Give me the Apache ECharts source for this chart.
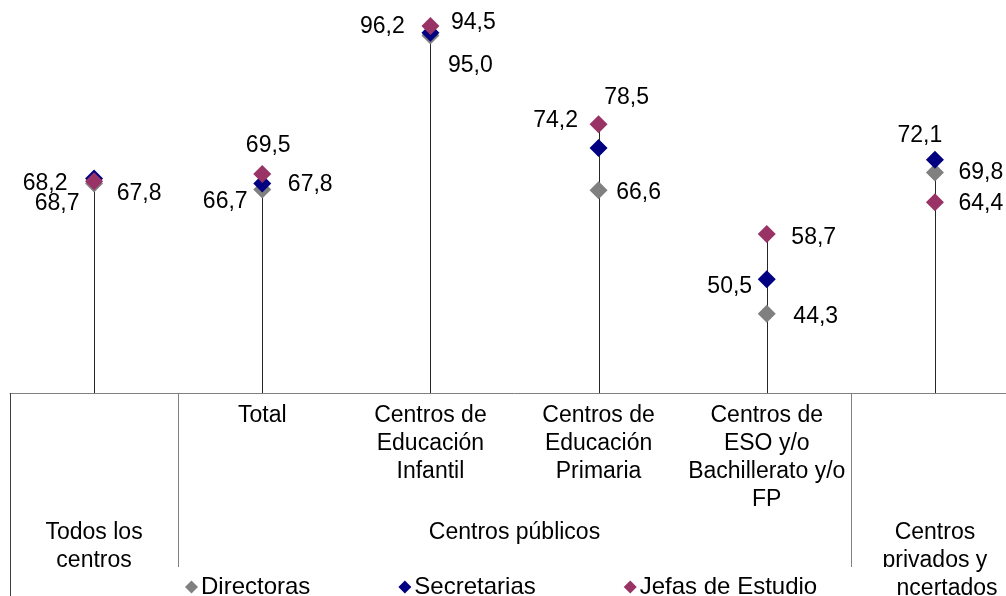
<!DOCTYPE html>
<html>
<head>
<meta charset="utf-8">
<title>Mujeres en la dirección de centros</title>
<script src="https://cdn.jsdelivr.net/npm/echarts@6/dist/echarts.min.js"></script>
<style>
  html, body { margin: 0; padding: 0; background: #fff; overflow: hidden; width: 1006px; height: 596px; }
  /* the plot runs slightly past the right edge of the page */
  #chart { width: 1024px; height: 596px; }
</style>
</head>
<body>
<div id="chart"></div>
<script>
// Category labels: first level (school type) and second level (ownership group)
const categories = ['', 'Total', 'Centros de\nEducación\nInfantil', 'Centros de\nEducación\nPrimaria', 'Centros de\nESO y/o\nBachillerato y/o\nFP', ''];
const groupLabels = ['Todos los\ncentros', 'Centros públicos', 'Centros\nprivados y\nconcertados'];
const groupSpans = [[0, 0], [1, 4], [5, 5]];

// Percentage of women in each post
const directoras = [67.8, 66.7, 94.5, 66.6, 44.3, 69.8];
const secretarias = [68.7, 67.8, 95.0, 74.2, 50.5, 72.1];
const jefasEstudio = [68.2, 69.5, 96.2, 78.5, 58.7, 64.4];

// Label placement (pixels from the marker centre) for each series
const offDirectoras = [[45, 10], [-37, 12], [43, -13], [40, 3], [49, 3], [46, 0]];
const offSecretarias = [[-37, 25], [48, 1], [40, 33], [-43, -27], [-37, 7], [-15, -24]];
const offJefas = [[-49, 2], [6, -28], [-48, 1], [28, -27], [47, 4], [46, 1]];

const FONT = '"Liberation Sans", Arial, sans-serif';
const AXIS_MIN = 30;

const chart = echarts.init(document.getElementById('chart'), null, { renderer: 'canvas' });

function fmt(v) { return v.toFixed(1).replace('.', ','); }

function points(values, offsets) {
  return values.map((v, i) => ({ value: [i, v], label: { offset: offsets[i] } }));
}

const stemData = categories.map((c, i) =>
  [i, Math.max(directoras[i], secretarias[i], jefasEstudio[i])]);

function markerSeries(name, color, values, offsets) {
  return {
    name: name,
    type: 'scatter',
    symbol: 'diamond',
    symbolSize: 18,
    itemStyle: { color: color, opacity: 1 },
    label: {
      show: true,
      position: 'inside',
      color: '#000',
      fontFamily: FONT,
      fontSize: 23,
      formatter: p => fmt(p.value[1])
    },
    emphasis: { disabled: true },
    data: points(values, offsets),
    z: 3
  };
}

chart.setOption({
  animation: false,
  backgroundColor: '#fff',
  grid: { left: 10, top: 5, width: 1009, height: 388 },
  xAxis: {
    type: 'category',
    data: categories,
    boundaryGap: true,
    axisLine: { lineStyle: { color: '#808080', width: 1 } },
    axisTick: { show: false },
    axisLabel: {
      interval: 0,
      margin: 9,
      color: '#000',
      fontFamily: FONT,
      fontSize: 23,
      lineHeight: 28,
      verticalAlign: 'top',
      align: 'center'
    },
    splitLine: { show: false }
  },
  yAxis: {
    type: 'value',
    min: AXIS_MIN,
    max: 100,
    show: false,
    splitLine: { show: false }
  },
  legend: {
    left: 180,
    top: 570,
    itemWidth: 13,
    itemHeight: 13,
    itemGap: 88,
    z: 10,
    textStyle: { color: '#000', fontFamily: FONT, fontSize: 24, padding: [0, 0, 0, -2] },
    data: [
      { name: 'Directoras', icon: 'diamond' },
      { name: 'Secretarias', icon: 'diamond' },
      { name: 'Jefas de Estudio', icon: 'diamond' }
    ]
  },
  series: [
    {
      name: 'stems',
      type: 'custom',
      silent: true,
      z: 1,
      renderItem: function (params, api) {
        const base = api.coord([api.value(0), AXIS_MIN]);
        const top = api.coord([api.value(0), api.value(1)]);
        const x = Math.round(base[0]) + 0.5;
        return {
          type: 'line',
          shape: { x1: x, y1: base[1], x2: x, y2: top[1] },
          style: { stroke: '#262626', lineWidth: 1 }
        };
      },
      data: stemData
    },
    markerSeries('Directoras', '#808080', directoras, offDirectoras),
    markerSeries('Secretarias', '#000080', secretarias, offSecretarias),
    markerSeries('Jefas de Estudio', '#993366', jefasEstudio, offJefas)
  ]
});

// Second-level group labels, separators and the legend backdrop
function drawGroups() {
  const px = i => chart.convertToPixel({ xAxisIndex: 0 }, i);
  const band = px(1) - px(0);
  const axisY = chart.convertToPixel({ yAxisIndex: 0 }, AXIS_MIN);
  const H = chart.getHeight();
  const elements = [];

  groupSpans.forEach((span, g) => {
    const cx = (px(span[0]) + px(span[1])) / 2;
    elements.push({
      type: 'text',
      z: 5,
      style: {
        x: cx, y: axisY + 126,
        text: groupLabels[g],
        fill: '#000',
        font: '23px ' + FONT,
        lineHeight: 28,
        align: 'center',
        verticalAlign: 'top'
      }
    });
  });

  // left border of the category area
  const leftX = Math.round(px(0) - band / 2) + 0.5;
  elements.push({
    type: 'line', z: 4,
    shape: { x1: leftX, y1: axisY, x2: leftX, y2: H },
    style: { stroke: '#404040', lineWidth: 1 }
  });
  // boundaries between groups
  groupSpans.slice(1).forEach(span => {
    const x = Math.round(px(span[0]) - band / 2) + 0.5;
    elements.push({
      type: 'line', z: 4,
      shape: { x1: x, y1: axisY, x2: x, y2: H },
      style: { stroke: '#808080', lineWidth: 1 }
    });
  });
  // white backdrop behind the legend
  elements.push({
    type: 'rect', z: 8,
    shape: { x: 150, y: 567, width: 746, height: H - 567 },
    style: { fill: '#fff' }
  });

  chart.setOption({ graphic: elements });
}
drawGroups();
</script>
</body>
</html>
